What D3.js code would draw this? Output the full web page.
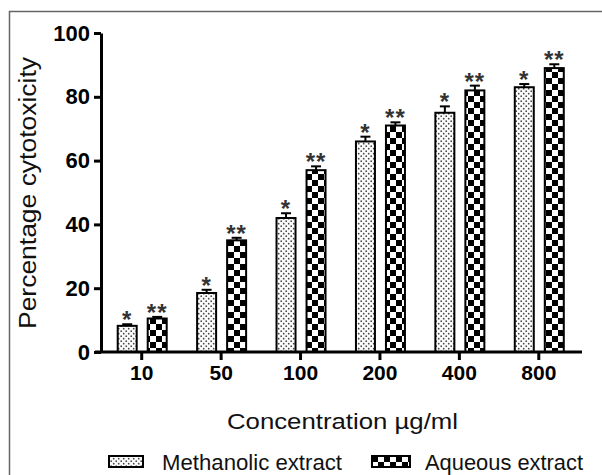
<!DOCTYPE html>
<html><head><meta charset="utf-8">
<script src="https://cdn.jsdelivr.net/npm/d3@7"></script>
<style>
html,body{margin:0;padding:0;background:#fff;}
svg{display:block;font-family:"Liberation Sans",Arial,sans-serif;}
</style></head>
<body>
<script>
const categories = ["10","50","100","200","400","800"];
const seriesNames = ["Methanolic extract","Aqueous extract"];
const methanolic = [8.2, 18.5, 42, 66, 75, 83];
const aqueous = [10.5, 35, 57, 71, 82, 89];
const methanolicErr = [0.5, 1, 1.5, 1.5, 2, 1];
const aqueousErr = [0.5, 0.8, 1.2, 1, 1.5, 1.2];
const significance = ["*","**"];
const yTicks = [0,20,40,60,80,100];

const W=602,H=475;
const svg=d3.select("body").append("svg").attr("width",W).attr("height",H);
const defs=svg.append("defs");
// dotted pattern
const pd=defs.append("pattern").attr("id","dots").attr("patternUnits","userSpaceOnUse").attr("width",5).attr("height",5);
pd.append("rect").attr("width",5).attr("height",5).attr("fill","#fbfbfb");
pd.append("circle").attr("cx",1.2).attr("cy",1.2).attr("r",0.85).attr("fill","#444");
pd.append("circle").attr("cx",3.7).attr("cy",3.7).attr("r",0.85).attr("fill","#444");
// checker pattern
const pc=defs.append("pattern").attr("id","checker").attr("patternUnits","userSpaceOnUse").attr("width",12).attr("height",12);
pc.append("rect").attr("width",12).attr("height",12).attr("fill","#fff");
pc.append("rect").attr("width",6).attr("height",6).attr("fill","#000");
pc.append("rect").attr("x",6).attr("y",6).attr("width",6).attr("height",6).attr("fill","#000");
const fills=["url(#dots)","url(#checker)"];

// frame
svg.append("path").attr("d","M9.5,"+H+" V11.5 H"+W).attr("fill","none").attr("stroke","#666").attr("stroke-width",1.5);

const y=d3.scaleLinear().domain([0,100]).range([352,33]);
const x=d3.scaleBand().domain(categories).range([102,578.5]);
const xs=d3.scaleBand().domain(seriesNames).range([15.7,64.7]).paddingInner(0.367).paddingOuter(0);

const series=[methanolic,aqueous], errs=[methanolicErr,aqueousErr];
series.forEach((vals,si)=>{
  const g=svg.append("g");
  const data=categories.map((c,i)=>({c,v:vals[i],e:errs[si][i]}));
  const bx=d=>x(d.c)+xs(seriesNames[si]);
  const bw=xs.bandwidth();
  g.selectAll("line.err").data(data).enter().append("line")
    .attr("x1",d=>bx(d)+bw/2).attr("x2",d=>bx(d)+bw/2)
    .attr("y1",d=>y(d.v)).attr("y2",d=>y(d.v+d.e)).attr("stroke","#000").attr("stroke-width",2);
  g.selectAll("line.cap").data(data).enter().append("line")
    .attr("x1",d=>bx(d)+bw/2-5).attr("x2",d=>bx(d)+bw/2+5)
    .attr("y1",d=>y(d.v+d.e)).attr("y2",d=>y(d.v+d.e)).attr("stroke","#000").attr("stroke-width",2);
  g.selectAll("rect").data(data).enter().append("rect")
    .attr("x",d=>bx(d)).attr("y",d=>y(d.v)).attr("width",bw).attr("height",d=>y(0)-y(d.v))
    .attr("fill",fills[si]).attr("stroke","#000").attr("stroke-width",2);
  g.selectAll("text").data(data).enter().append("text")
    .attr("x",d=>bx(d)+bw/2).attr("y",d=>y(d.v+d.e)+4)
    .attr("text-anchor","middle").attr("font-size",24).attr("font-weight","bold").attr("fill","#333")
    .attr("letter-spacing",1)
    .text(significance[si]);
});

// axes
const yAxis=svg.append("g").attr("transform","translate(101,0)")
  .call(d3.axisLeft(y).tickValues(yTicks).tickSize(7).tickSizeOuter(0).tickPadding(4));
yAxis.select(".domain").attr("stroke-width",3);
yAxis.selectAll(".tick line").attr("stroke-width",3);
yAxis.selectAll("text").attr("font-size",22).attr("font-weight","bold").attr("fill","#000")
  .attr("font-family","'Liberation Sans',Arial,sans-serif");

const xAxis=svg.append("g").attr("transform","translate(0,352)")
  .call(d3.axisBottom(x).tickSize(8).tickSizeOuter(0).tickPadding(5));
xAxis.select(".domain").remove();
xAxis.append("line").attr("x1",95).attr("x2",582).attr("stroke","#000").attr("stroke-width",3);
xAxis.selectAll(".tick line").attr("stroke-width",3);
xAxis.selectAll("text").attr("font-size",21).attr("font-weight","bold").attr("fill","#000")
  .attr("font-family","'Liberation Sans',Arial,sans-serif");

// axis titles
svg.append("text").attr("transform","translate(36,193) rotate(-90)").attr("text-anchor","middle")
  .attr("font-size",23).attr("fill","#111")
  .attr("textLength",272).attr("lengthAdjust","spacingAndGlyphs").text("Percentage cytotoxicity");
svg.append("text").attr("x",342.5).attr("y",429).attr("text-anchor","middle")
  .attr("font-size",22).attr("fill","#111")
  .attr("textLength",231).attr("lengthAdjust","spacingAndGlyphs").text("Concentration µg/ml");

// legend
const legX=[109,372], legTX=[162,425], legW=[180,158];
seriesNames.forEach((n,i)=>{
  svg.append("rect").attr("x",legX[i]).attr("y",456).attr("width",i?38:34).attr("height",11)
    .attr("fill",fills[i]).attr("stroke","#000").attr("stroke-width",2);
  svg.append("text").attr("x",legTX[i]).attr("y",470).attr("font-size",22).attr("fill","#111")
    .attr("textLength",legW[i]).attr("lengthAdjust","spacingAndGlyphs").text(n);
});
</script>
</body></html>
